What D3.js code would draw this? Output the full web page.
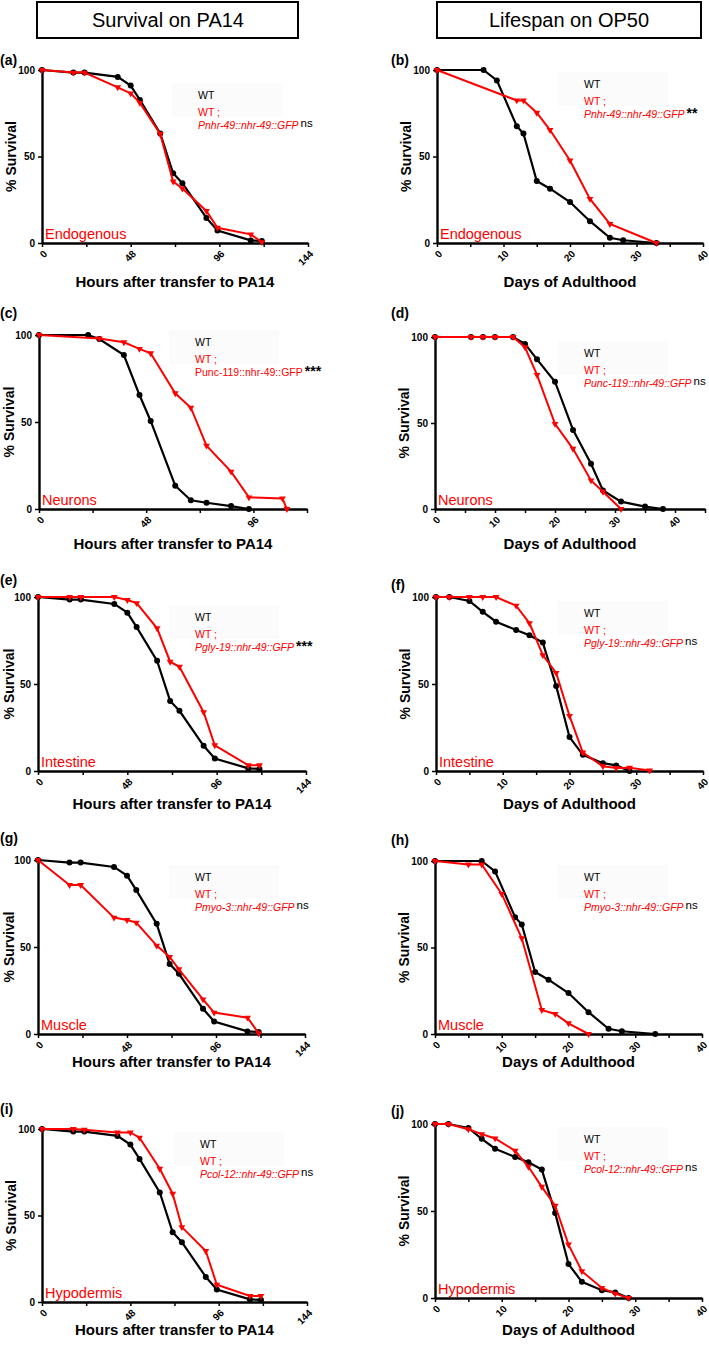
<!DOCTYPE html>
<html>
<head>
<meta charset="utf-8">
<script src="https://cdn.jsdelivr.net/npm/d3@7"></script>
<style>
  body { margin: 0; background: #fff; }
  svg { font-family: "Liberation Sans", Arial, sans-serif; }
</style>
</head>
<body>
<script>
// PA14 survival, shared time points (hours)
var pa14Hours = [0, 17, 23, 41, 48, 53, 64, 71, 76, 89, 95, 113, 119];
var pa14WT = [100, 98.5, 98.5, 96, 91, 82.7, 63.3, 40.3, 34.6, 14.5, 7.2, 1.5, 1.2];
var pa14Endogenous = [100, 98.5, 98.5, 90, 86.5, 81, 63, 35.5, 31.5, 18.5, 8.8, 5, 0.5];
var pa14Intestine = [100, 100, 100, 100, 98.3, 96.5, 82, 62.8, 59.9, 33.8, 14.8, 3.3, 3.3];
var pa14Muscle = [100, 85.6, 85.6, 66.9, 65.5, 64, 50.8, 44.3, 37.2, 19.9, 12.3, 9.4, 0.4];
var pa14Hypodermis = [100, 100, 99.6, 98, 98, 95, 77, 62.6, 43.3, 29.5, 10, 3.5, 3.5];

// neuronal PA14 assay had its own time points
var neuronWTHours = [0, 22, 27, 38, 45, 50, 61, 68, 75, 86, 94];
var neuronWT = [100, 100, 97.7, 88.5, 65.5, 50.6, 13.4, 5, 3.6, 1.7, 0];
var neuronGFPHours = [0, 27, 38, 45, 50, 61, 68, 75, 86, 94, 109, 111];
var neuronGFP = [100, 98, 95.8, 92, 89.5, 66.5, 58.2, 36.4, 21.5, 6.7, 6.1, 0];

// OP50 lifespans (days of adulthood)
var op50DaysA = [0, 7, 9, 12, 13, 15, 17, 20, 23, 26, 28, 33];
var op50WTA = [100, 100, 94, 67.5, 63.3, 35.8, 31.4, 23.7, 12.6, 3, 1.6, 0];
var endoDays = [0, 12, 13, 15, 17, 20, 23, 26, 33];
var endoLife = [100, 82.4, 82.4, 75.3, 65.3, 47.7, 25.5, 11, 0];
var muscleDays = [0, 5, 7, 10, 13, 16, 18, 20, 23];
var muscleLife = [100, 98, 98, 81, 55.3, 13.9, 11.6, 6.2, 0];

var op50DaysN = [0, 6, 8, 10, 13, 15, 17, 20, 23, 26, 28, 31, 35, 38];
var op50WTN = [100, 100, 100, 100, 100, 96, 87, 74, 46, 26.3, 10.8, 4.3, 1.4, 0];
var neuronLifeDays = [0, 6, 8, 10, 13, 15, 17, 20, 23, 26, 28, 31];
var neuronLife = [100, 100, 100, 100, 100, 94, 78, 49.5, 35, 16.6, 10, 0];

var op50DaysB = [0, 2, 5, 7, 9, 12, 14, 16, 18, 20, 22, 25, 27, 29];
var op50WTB = [100, 100, 97.7, 91.5, 85.8, 81, 78, 73.8, 48.9, 19.5, 9.3, 4.5, 3.2, 0];
var intestineDays = [0, 2, 5, 7, 9, 12, 14, 16, 18, 20, 22, 25, 27, 29, 32];
var intestineLife = [100, 100, 100, 100, 100, 95, 85, 66.6, 56.4, 31.7, 10.6, 2.7, 1.7, 1.9, 0.3];
var hypodermisLife = [100, 100, 97, 94.2, 91.7, 84.6, 75.4, 63.9, 53, 30.7, 15.4, 5.8, 2.5, 0];

// labels
var headers = ["Survival on PA14", "Lifespan on OP50"];
var panelLetters = ["(a)", "(b)", "(c)", "(d)", "(e)", "(f)", "(g)", "(h)", "(i)", "(j)"];
var tissues = ["Endogenous", "Endogenous", "Neurons", "Neurons", "Intestine", "Intestine",
               "Muscle", "Muscle", "Hypodermis", "Hypodermis"];
var constructs = ["Pnhr-49::nhr-49::GFP", "Pnhr-49::nhr-49::GFP", "Punc-119::nhr-49::GFP",
                  "Punc-119::nhr-49::GFP", "Pgly-19::nhr-49::GFP", "Pgly-19::nhr-49::GFP",
                  "Pmyo-3::nhr-49::GFP", "Pmyo-3::nhr-49::GFP", "Pcol-12::nhr-49::GFP",
                  "Pcol-12::nhr-49::GFP"];
var signif = ["ns", "**", "***", "ns", "***", "ns", "ns", "ns", "ns", "ns"];
var pa14Ticks = [0, 48, 96, 144];
var op50Ticks = [0, 10, 20, 30, 40];
var yTicks = [0, 50, 100];

// which arrays go in which panel: [wtX, wtY, gfpX, gfpY]
var series = [
  [pa14Hours, pa14WT, pa14Hours, pa14Endogenous],
  [op50DaysA, op50WTA, endoDays, endoLife],
  [neuronWTHours, neuronWT, neuronGFPHours, neuronGFP],
  [op50DaysN, op50WTN, neuronLifeDays, neuronLife],
  [pa14Hours, pa14WT, pa14Hours, pa14Intestine],
  [op50DaysB, op50WTB, intestineDays, intestineLife],
  [pa14Hours, pa14WT, pa14Hours, pa14Muscle],
  [op50DaysA, op50WTA, muscleDays, muscleLife],
  [pa14Hours, pa14WT, pa14Hours, pa14Hypodermis],
  [op50DaysB, op50WTB, op50DaysB, hypodermisLife]
];

// panel geometry (tt = baseline of x title below the axis)
var layout = [
  {x0: 42,  x1: 308, top: 70,   bottom: 243,  max: 144, lab: 65,   lx: 198, ly: 95,   tt: 44},
  {x0: 437, x1: 703, top: 70,   bottom: 243,  max: 40,  lab: 65,   lx: 584, ly: 84,   tt: 44},
  {x0: 39,  x1: 307, top: 335,  bottom: 509,  max: 120, lab: 318,  lx: 195, ly: 342,  tt: 40},
  {x0: 435, x1: 705, top: 337,  bottom: 509,  max: 45,  lab: 318,  lx: 584, ly: 353,  tt: 40},
  {x0: 38,  x1: 306, top: 597,  bottom: 771,  max: 144, lab: 585,  lx: 195, ly: 617,  tt: 38},
  {x0: 436, x1: 703, top: 597,  bottom: 771,  max: 40,  lab: 590,  lx: 584, ly: 613,  tt: 38},
  {x0: 38,  x1: 305, top: 860,  bottom: 1034, max: 144, lab: 843,  lx: 195, ly: 877,  tt: 33},
  {x0: 435, x1: 702, top: 861,  bottom: 1034, max: 40,  lab: 845,  lx: 584, ly: 877,  tt: 33},
  {x0: 42,  x1: 307, top: 1129, bottom: 1302, max: 144, lab: 1114, lx: 200, ly: 1144, tt: 33},
  {x0: 435, x1: 702, top: 1124, bottom: 1298, max: 40,  lab: 1116, lx: 584, ly: 1139, tt: 37}
];

var red = "#ff0000";

var svg = d3.select("body").append("svg")
    .attr("width", 709)
    .attr("height", 1346);

// header boxes
var hdr = svg.selectAll(".hdr")
    .data(headers)
  .enter().append("g")
    .attr("class", "hdr");
hdr.append("rect")
    .attr("x", function(d, i) { return i ? 437 : 37; })
    .attr("y", 2)
    .attr("width", function(d, i) { return i ? 264 : 261; })
    .attr("height", 36)
    .attr("fill", "none")
    .attr("stroke", "#000")
    .attr("stroke-width", 2);
hdr.append("text")
    .attr("x", function(d, i) { return i ? 569 : 168; })
    .attr("y", 27)
    .attr("text-anchor", "middle")
    .style("font-size", "20px")
    .text(function(d) { return d; });

layout.forEach(function(p, i) {
  var left = i % 2 === 0;
  var g = svg.append("g");

  var x = d3.scaleLinear().domain([0, p.max]).range([p.x0, p.x1]);
  var y = d3.scaleLinear().domain([0, 100]).range([p.bottom, p.top]);

  var major = (left ? pa14Ticks : op50Ticks).filter(function(t) { return t <= p.max; });
  var step = left ? 24 : 5;
  var minor = d3.range(0, p.max + 0.01, step).filter(function(t) { return major.indexOf(t) < 0; });

  // panel letter
  g.append("text")
      .attr("x", left ? 0 : 391)
      .attr("y", p.lab)
      .style("font-size", "14px")
      .style("font-weight", "bold")
      .text(panelLetters[i]);

  // minor x ticks
  g.append("g")
      .attr("transform", "translate(0," + p.bottom + ")")
      .call(d3.axisBottom(x).tickValues(minor).tickSize(4).tickSizeOuter(0).tickFormat(""))
      .call(function(a) { a.select(".domain").remove(); })
      .selectAll("line").attr("stroke-width", 1.5);

  // x axis
  var xa = g.append("g")
      .attr("transform", "translate(0," + p.bottom + ")")
      .call(d3.axisBottom(x).tickValues(major).tickSize(4).tickSizeOuter(0));
  xa.select(".domain").attr("stroke-width", 2.4);
  xa.selectAll("line").attr("stroke-width", 1.5);
  xa.selectAll("text")
      .attr("y", null)
      .attr("transform", "translate(3,9) rotate(-45)")
      .attr("text-anchor", "end")
      .attr("dy", "0.35em")
      .style("font-size", "10px")
      .style("font-weight", "bold")
      .style("font-family", "'Liberation Sans', Arial, sans-serif");

  // y axis
  var ya = g.append("g")
      .attr("transform", "translate(" + p.x0 + ",0)")
      .call(d3.axisLeft(y).tickValues(yTicks).tickSize(4).tickSizeOuter(0));
  ya.select(".domain").attr("stroke-width", 2.4);
  ya.selectAll("line").attr("stroke-width", 1.5);
  ya.selectAll("text")
      .style("font-size", "10px")
      .style("font-weight", "bold")
      .style("font-family", "'Liberation Sans', Arial, sans-serif");

  // axis titles
  g.append("text")
      .attr("transform", "translate(" + Math.max(p.x0 - 31, 9) + "," + ((p.top + p.bottom) / 2) + ") rotate(-90)")
      .attr("text-anchor", "middle")
      .attr("dy", "0.35em")
      .style("font-size", "14px")
      .style("font-weight", "bold")
      .text("% Survival");
  g.append("text")
      .attr("x", (p.x0 + p.x1) / 2)
      .attr("y", p.bottom + p.tt)
      .attr("text-anchor", "middle")
      .style("font-size", "15px")
      .style("font-weight", "bold")
      .text(left ? "Hours after transfer to PA14" : "Days of Adulthood");

  // tissue label
  g.append("text")
      .attr("x", p.x0 + 3)
      .attr("y", p.bottom - 4)
      .attr("fill", red)
      .style("font-size", "14.5px")
      .text(tissues[i]);

  // legend (very faint backing box as in the original)
  g.append("rect")
      .attr("x", p.lx - 26)
      .attr("y", p.ly - 12)
      .attr("width", 110)
      .attr("height", 34)
      .attr("fill", "#fbfbfb");
  g.append("text")
      .attr("x", p.lx).attr("y", p.ly + 4)
      .style("font-size", "10.5px")
      .text("WT");
  g.append("text")
      .attr("x", p.lx).attr("y", p.ly + 21)
      .attr("fill", red)
      .style("font-size", "10.5px")
      .text("WT ;");
  var gl = g.append("text")
      .attr("x", p.lx).attr("y", p.ly + 34)
      .style("font-size", "10.5px");
  gl.append("tspan")
      .attr("fill", red)
      .style("font-style", i === 2 ? "normal" : "italic")
      .text(constructs[i]);
  gl.append("tspan")
      .attr("dx", 2)
      .attr("dy", signif[i] === "ns" ? -2 : 0)
      .style("font-size", signif[i] === "ns" ? "11.5px" : "14px")
      .style("font-weight", signif[i] === "ns" ? "normal" : "bold")
      .text(signif[i]);

  // curves
  var s = series[i];
  var wt = s[0].map(function(t, k) { return {t: t, v: s[1][k]}; });
  var gfp = s[2].map(function(t, k) { return {t: t, v: s[3][k]}; });
  var line = d3.line()
      .x(function(d) { return x(d.t); })
      .y(function(d) { return y(d.v); });

  g.append("path").datum(wt)
      .attr("d", line)
      .attr("fill", "none").attr("stroke", "#000").attr("stroke-width", 2.2);
  g.selectAll(".wt").data(wt)
    .enter().append("circle")
      .attr("class", "wt")
      .attr("cx", function(d) { return x(d.t); })
      .attr("cy", function(d) { return y(d.v); })
      .attr("r", 3);

  g.append("path").datum(gfp)
      .attr("d", line)
      .attr("fill", "none").attr("stroke", red).attr("stroke-width", 2);
  var tri = d3.symbol().type(d3.symbolTriangle).size(20);
  g.selectAll(".gfp").data(gfp)
    .enter().append("path")
      .attr("class", "gfp")
      .attr("d", tri)
      .attr("fill", red)
      .attr("transform", function(d) {
        return "translate(" + x(d.t) + "," + y(d.v) + ") rotate(180)";
      });
});
</script>
</body>
</html>
